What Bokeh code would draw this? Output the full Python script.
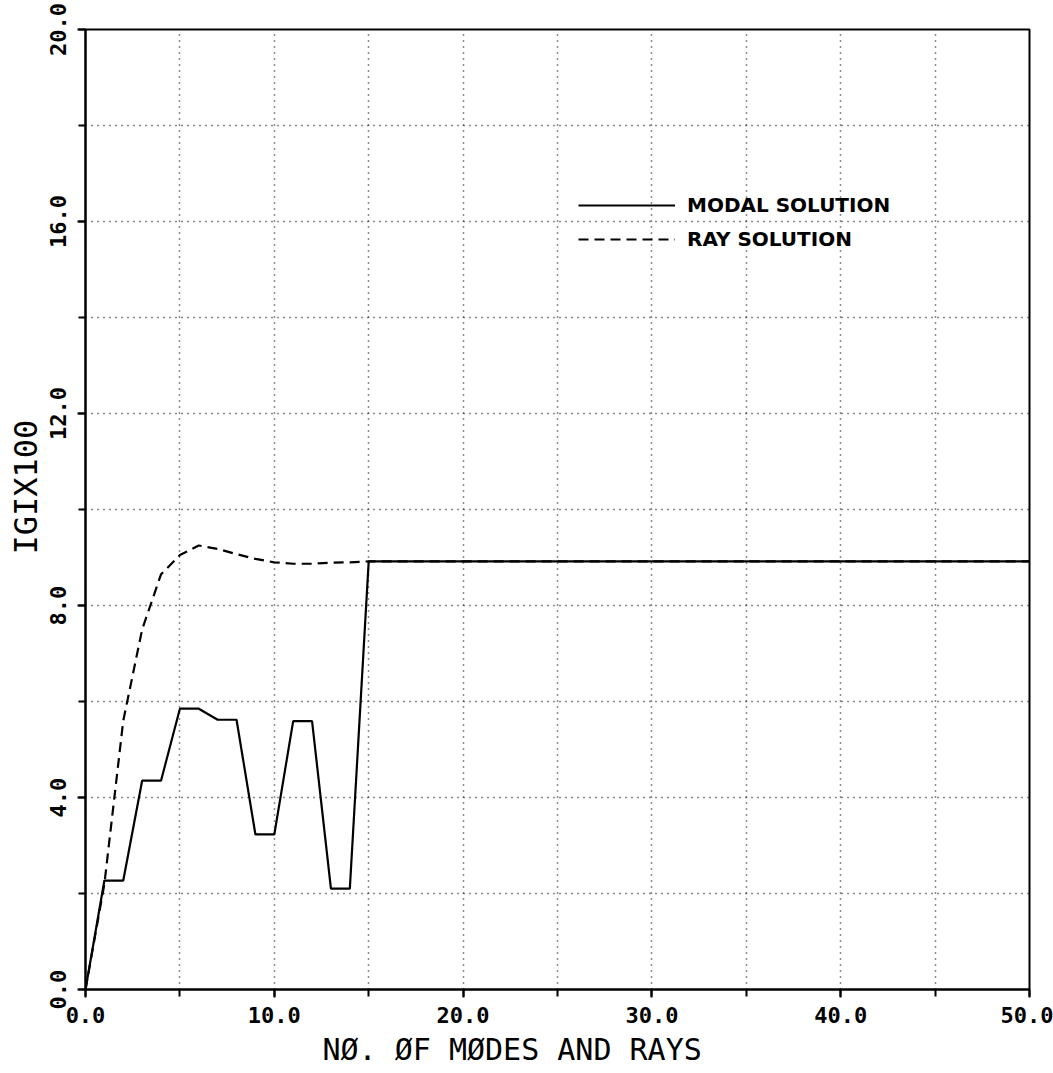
from bokeh.plotting import figure
from bokeh.models import Range1d, SingleIntervalTicker, PrintfTickFormatter, Legend, LegendItem, Title
from bokeh.embed import file_html
from bokeh.resources import INLINE

# Data
modes = [0, 1, 2, 3, 4, 5, 6, 7, 8, 9, 10, 11, 12, 13, 14, 15, 50]
modal = [0.0, 2.27, 2.27, 4.35, 4.35, 5.85, 5.85, 5.62, 5.62, 3.23, 3.23, 5.59, 5.59, 2.10, 2.10, 8.92, 8.92]
rays = [0, 1, 2, 3, 4, 5, 6, 7, 8, 9, 10, 11, 12, 13, 14, 15, 50]
ray = [0.0, 2.2, 5.6, 7.5, 8.65, 9.05, 9.25, 9.18, 9.07, 8.97, 8.9, 8.87, 8.87, 8.89, 8.9, 8.92, 8.92]
x_label = "NØ. ØF MØDES AND RAYS"
y_label = "IGIX100"
legend_labels = ["MODAL SOLUTION", "RAY SOLUTION"]

MONO = "DejaVu Sans Mono"

p = figure(width=1053, height=1073, output_backend="svg", toolbar_location=None,
           x_range=Range1d(0, 50), y_range=Range1d(0, 20))
p.min_border_left = 85
p.min_border_right = 24
p.min_border_top = 29
p.min_border_bottom = 84
p.background_fill_color = "white"
p.border_fill_color = "white"
p.outline_line_color = "black"
p.outline_line_width = 2

# axes
p.xaxis.ticker = SingleIntervalTicker(interval=10, num_minor_ticks=2)
p.yaxis.ticker = SingleIntervalTicker(interval=4, num_minor_ticks=2)
for ax in (p.xaxis, p.yaxis):
    ax.formatter = PrintfTickFormatter(format="%.1f")
    ax.axis_line_color = "black"
    ax.axis_line_width = 2
    ax.major_tick_line_color = "black"
    ax.major_tick_line_width = 2
    ax.minor_tick_line_color = "black"
    ax.minor_tick_line_width = 2
    ax.major_tick_in = 0
    ax.major_tick_out = 8
    ax.minor_tick_in = 0
    ax.minor_tick_out = 7
    ax.major_label_text_font = MONO
    ax.major_label_text_font_size = "22px"
    ax.major_label_text_font_style = "bold"
    ax.major_label_text_color = "black"

p.xaxis.major_label_standoff = 9
p.yaxis.major_label_orientation = "parallel"
p.yaxis.major_label_standoff = 12

# axis titles (as side titles so they can be offset like the reference)
p.add_layout(Title(text=x_label, align="left", offset=237, standoff=8,
                   text_font=MONO, text_font_size="30px", text_font_style="normal",
                   text_color="black"), "below")
p.add_layout(Title(text=y_label, align="left", offset=435, standoff=4,
                   text_font=MONO, text_font_size="32px", text_font_style="normal",
                   text_color="black"), "left")

# grid
p.xgrid.ticker = SingleIntervalTicker(interval=5)
p.ygrid.ticker = SingleIntervalTicker(interval=2)
for g in (p.xgrid, p.ygrid):
    g.grid_line_color = "black"
    g.grid_line_width = 1.5
    g.grid_line_dash = "1 5"
    g.grid_line_alpha = 0.9

# lines
r_modal = p.line(modes, modal, line_color="black", line_width=2.2)
r_ray = p.line(rays, ray, line_color="black", line_width=2.2, line_dash="10 6")

legend = Legend(items=[LegendItem(label=legend_labels[0], renderers=[r_modal]),
                       LegendItem(label=legend_labels[1], renderers=[r_ray])],
                location=(493, 738))
legend.glyph_width = 97
legend.glyph_height = 20
legend.label_height = 20
legend.spacing = 10
legend.padding = 0
legend.margin = 0
legend.label_standoff = 12
legend.label_text_font = "DejaVu Sans"
legend.label_text_font_style = "bold"
legend.label_text_font_size = "20px"
legend.label_text_color = "black"
legend.border_line_alpha = 0
legend.background_fill_alpha = 0
p.add_layout(legend, "center")

open("out.html", "w").write(file_html(p, INLINE))
